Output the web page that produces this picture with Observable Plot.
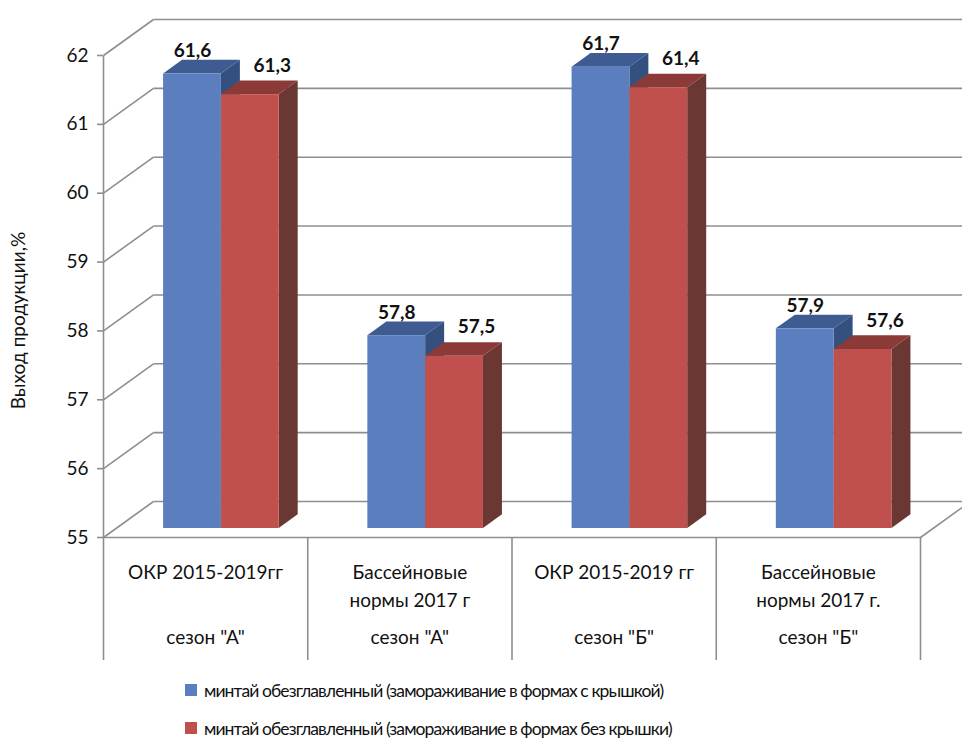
<!DOCTYPE html>
<html>
<head>
<meta charset="utf-8">
<script src="https://cdn.jsdelivr.net/npm/d3@7"></script>
<script src="https://cdn.jsdelivr.net/npm/@observablehq/plot@0.6"></script>
<style>
  html, body { margin: 0; padding: 0; background: #fff; overflow: hidden; }
  #chart svg { overflow: hidden; display: block; }
  .legend { font-family: Lato, "Open Sans", sans-serif; font-size: 17.5px; letter-spacing: -0.9px; color: #111; margin-left: 185px; }
  .legend .row { height: 38px; display: flex; align-items: center; }
  .legend .sw { width: 12px; height: 12px; margin-right: 7px; display: inline-block; }
</style>
</head>
<body>
<div id="chart"></div>
<div class="legend" id="legend"></div>
<script>
// ---- data ----
const catLine1 = ["ОКР 2015-2019гг", "Бассейновые", "ОКР 2015-2019 гг", "Бассейновые"];
const catLine2 = ["", "нормы 2017 г", "", "нормы 2017 г."];
const seasons = ['сезон "А"', 'сезон "А"', 'сезон "Б"', 'сезон "Б"'];
const seriesNames = [
  "минтай обезглавленный (замораживание в формах с крышкой)",
  "минтай обезглавленный (замораживание в формах без крышки)"
];
const withLid = [61.6, 57.8, 61.7, 57.9];
const withoutLid = [61.3, 57.5, 61.4, 57.6];
const yTicks = [55, 56, 57, 58, 59, 60, 61, 62];
const valueLabels = [["61,6", "57,8", "61,7", "57,9"], ["61,3", "57,5", "61,4", "57,6"]];

// ---- styles / 3D projection ----
const faceColors = [
  {front: "#5b7ebf", top: "#3e5b92", side: "#34507f"},
  {front: "#bf504d", top: "#8c3a37", side: "#6b3733"}
];
const gridColor = "#8e8e8e";
const KX = 0.2448, KY = 0.5228;     // full wall depth, in data units
const WF = 0.25, WB = 0.63;         // bar front/back depth fractions
const B0 = 0.233, BW = 0.283;       // bar offset/width within a category band
const yMin = yTicks[0], yMax = yTicks[yTicks.length - 1];
const nCat = catLine1.length;
const font = "Lato, 'Open Sans', sans-serif";

const series = [withLid, withoutLid];
const bars = [];
series.forEach((vals, s) => vals.forEach((v, i) => {
  bars.push({s, i, v, id: s + "-" + i, a: i + B0 + s * BW, b: i + B0 + (s + 1) * BW, label: valueLabels[s][i]});
}));
const fronts = bars.map(d => ({...d, x1: d.a + WF * KX, x2: d.b + WF * KX, y1: yMin + WF * KY, y2: d.v + WF * KY}));
const tops = bars.flatMap(d => [WF, WB].map(k => ({...d, x1: d.a + k * KX, x2: d.b + k * KX, y1: d.v + k * KY, y2: d.v + k * KY})));
const sides = bars.flatMap(d => [WF, WB].map(k => ({...d, x1: d.b + k * KX, x2: d.b + k * KX, y1: yMin + k * KY, y2: d.v + k * KY})));

const cats = d3.range(nCat);
const bounds = d3.range(nCat + 1);

const barMarks = [];
[0, 1].forEach(s => {
  const c = faceColors[s];
  barMarks.push(
    Plot.area(sides.filter(d => d.s === s), {x1: "x1", y1: "y1", x2: "x2", y2: "y2", z: "id", fill: c.side, curve: "linear"}),
    Plot.area(tops.filter(d => d.s === s), {x1: "x1", y1: "y1", x2: "x2", y2: "y2", z: "id", fill: c.top, curve: "linear"}),
    Plot.rect(fronts.filter(d => d.s === s), {x1: "x1", x2: "x2", y1: "y1", y2: "y2", fill: c.front})
  );
});

const chart = Plot.plot({
  width: 962,
  height: 665,
  marginLeft: 103,
  marginRight: 42,
  marginTop: 55,
  marginBottom: 128,
  style: {fontFamily: font, background: "#fff"},
  x: {type: "linear", domain: [0, nCat]},
  y: {type: "linear", domain: [yMin, yMax]},
  marks: [
    // back wall gridlines
    Plot.link(yTicks, {x1: KX, x2: nCat + KX, y1: d => d + KY, y2: d => d + KY, stroke: gridColor, strokeWidth: 1.6}),
    // left wall diagonals
    Plot.link(yTicks, {x1: 0, x2: KX, y1: d => d, y2: d => d + KY, stroke: gridColor, strokeWidth: 1.6}),
    // axis line + floor front edge + right floor edge
    Plot.link([0], {x1: 0, x2: 0, y1: yMin, y2: yMax, stroke: gridColor, strokeWidth: 1.6}),
    Plot.link([0], {x1: 0, x2: nCat, y1: yMin, y2: yMin, stroke: gridColor, strokeWidth: 1.6}),
    Plot.link([0], {x1: nCat, x2: nCat + KX, y1: yMin, y2: yMin + KY, stroke: gridColor, strokeWidth: 1.6}),
    // y axis ticks and labels
    Plot.axisY({ticks: yTicks, tickFormat: d => String(d), tickSize: 6, tickPadding: 9, fontSize: 19, label: null, stroke: gridColor, strokeWidth: 1.6, color: "#111"}),
    // category separators
    Plot.axisX({ticks: bounds, tickSize: 123, tickFormat: () => "", label: null, stroke: gridColor, strokeWidth: 1.6}),
    ...barMarks,
    // value labels
    Plot.text(fronts.filter(d => d.s === 0), {x: d => (d.x1 + d.x2) / 2, y: "y2", text: "label", dy: -23, fontSize: 19, fontWeight: "bold", fill: "#111"}),
    Plot.text(fronts.filter(d => d.s === 1), {x: d => (d.x1 + d.x2) / 2, y: "y2", text: "label", dx: 22, dy: -29, fontSize: 19, fontWeight: "bold", fill: "#111"}),
    // category labels
    Plot.text(cats, {x: d => d + 0.5, y: yMin, text: d => catLine1[d], dy: 35, fontSize: 19, fill: "#111"}),
    Plot.text(cats, {x: d => d + 0.5, y: yMin, text: d => catLine2[d], dy: 63, fontSize: 19, fill: "#111"}),
    Plot.text(cats, {x: d => d + 0.5, y: yMin, text: d => seasons[d], dy: 100, fontSize: 19, fill: "#111"}),
    // y title
    Plot.text(["Выход продукции,%"], {frameAnchor: "left", text: d => d, rotate: -90, textAnchor: "middle", dx: -85, dy: 24, fontSize: 19, fill: "#111"})
  ]
});
document.getElementById("chart").appendChild(chart);

const legend = document.getElementById("legend");
seriesNames.forEach((name, s) => {
  const row = document.createElement("div");
  row.className = "row";
  const sw = document.createElement("span");
  sw.className = "sw";
  sw.style.background = faceColors[s].front;
  row.appendChild(sw);
  row.appendChild(document.createTextNode(name));
  legend.appendChild(row);
});
legend.style.marginTop = "6px";
</script>
</body>
</html>
